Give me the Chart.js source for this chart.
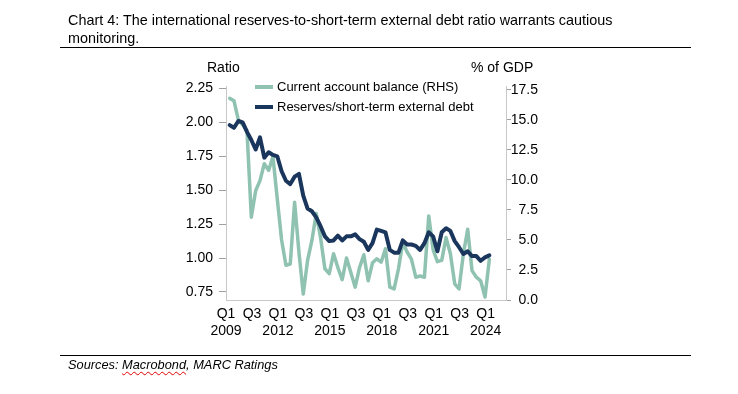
<!DOCTYPE html>
<html>
<head>
<meta charset="utf-8">
<title>Chart 4</title>
<script src="https://cdn.jsdelivr.net/npm/chart.js@4.4.1/dist/chart.umd.min.js"></script>
<style>
  html, body { margin: 0; padding: 0; background: #fff; }
  body { width: 738px; height: 394px; position: relative; overflow: hidden;
         font-family: "Liberation Sans", Arial, sans-serif; color: #000; }
  #wrap { position: absolute; left: 0; top: 0; width: 738px; height: 394px; }
  .title { position: absolute; left: 68px; top: 11px; font-size: 14.4px; line-height: 18px; white-space: nowrap; }
  .rule { position: absolute; left: 60px; width: 631px; height: 1px; background: #000; }
  .src { position: absolute; left: 68px; top: 357px; font-size: 12.8px; line-height: 16px; font-style: italic; white-space: nowrap; }
  .spell { text-decoration: underline wavy #e00000; text-decoration-thickness: 1px; text-underline-offset: 2px; }
  .axt { position: absolute; top: 59px; font-size: 14px; line-height: 16px; white-space: nowrap; }
  .sw { position: absolute; left: 255px; width: 18px; height: 4px; }
  .leg { position: absolute; left: 277px; font-size: 13px; line-height: 16px; white-space: nowrap; }
</style>
</head>
<body>
<div id="wrap"><canvas id="chart"></canvas></div>

<div class="title">Chart 4: The international reserves-to-short-term external debt ratio warrants cautious<br>monitoring.</div>
<div class="rule" style="top:47px"></div>

<div class="axt" style="left:207px">Ratio</div>
<div class="axt" style="left:471px">% of GDP</div>

<div class="sw" style="top:85px;background:#8fc2b1"></div>
<div class="leg" style="top:79px">Current account balance (RHS)</div>
<div class="sw" style="top:105px;background:#1b365d"></div>
<div class="leg" style="top:99px">Reserves/short-term external debt</div>

<div class="rule" style="top:355px"></div>
<div class="src">Sources: <span class="spell">Macrobond</span>, MARC Ratings</div>

<script>
  // quarterly observations, Q1 2009 - Q1 2024
  const quarters = [
    "Q1 2009", "Q2 2009", "Q3 2009", "Q4 2009",
    "Q1 2010", "Q2 2010", "Q3 2010", "Q4 2010",
    "Q1 2011", "Q2 2011", "Q3 2011", "Q4 2011",
    "Q1 2012", "Q2 2012", "Q3 2012", "Q4 2012",
    "Q1 2013", "Q2 2013", "Q3 2013", "Q4 2013",
    "Q1 2014", "Q2 2014", "Q3 2014", "Q4 2014",
    "Q1 2015", "Q2 2015", "Q3 2015", "Q4 2015",
    "Q1 2016", "Q2 2016", "Q3 2016", "Q4 2016",
    "Q1 2017", "Q2 2017", "Q3 2017", "Q4 2017",
    "Q1 2018", "Q2 2018", "Q3 2018", "Q4 2018",
    "Q1 2019", "Q2 2019", "Q3 2019", "Q4 2019",
    "Q1 2020", "Q2 2020", "Q3 2020", "Q4 2020",
    "Q1 2021", "Q2 2021", "Q3 2021", "Q4 2021",
    "Q1 2022", "Q2 2022", "Q3 2022", "Q4 2022",
    "Q1 2023", "Q2 2023", "Q3 2023", "Q4 2023",
    "Q1 2024",
  ];

  // Reserves/short-term external debt (ratio, LHS)
  const reservesRatio = [
    1.98, 1.96, 2.01, 2.00, 1.93, 1.87, 1.80, 1.89, 1.74, 1.78,
    1.76, 1.75, 1.64, 1.57, 1.545, 1.60, 1.62, 1.46, 1.365, 1.345,
    1.30, 1.235, 1.16, 1.125, 1.13, 1.165, 1.13, 1.16, 1.16, 1.175,
    1.14, 1.12, 1.06, 1.11, 1.21, 1.20, 1.19, 1.06, 1.04, 1.04,
    1.13, 1.10, 1.10, 1.09, 1.06, 1.11, 1.19, 1.16, 1.05, 1.19,
    1.22, 1.20, 1.125, 1.08, 1.03, 1.05, 1.015, 1.015, 0.98, 1.005,
    1.02,
  ];

  // Current account balance (% of GDP, RHS)
  const currentAccount = [
    16.8, 16.6, 15.0, 14.6, 14.1, 6.9, 9.1, 9.95, 11.35, 10.8,
    11.95, 8.4, 5.0, 2.9, 3.0, 8.15, 4.0, 0.5, 3.3, 4.96,
    7.2, 5.2, 2.6, 2.2, 3.85, 2.7, 1.7, 3.5, 2.3, 1.07,
    2.7, 3.77, 1.6, 3.1, 3.43, 3.15, 4.27, 1.07, 0.93, 2.6,
    4.8, 4.0, 3.4, 1.9, 2.0, 1.9, 7.0, 4.2, 3.2, 3.3,
    5.2, 3.85, 1.35, 0.93, 3.85, 5.9, 2.45, 1.9, 1.6, 0.25,
    3.4,
  ];

  const leftTicks = [0.75, 1.00, 1.25, 1.50, 1.75, 2.00, 2.25];
  const rightTicks = [0, 2.5, 5, 7.5, 10, 12.5, 15, 17.5];
  const xTickQuarters = ["Q1 2009", "Q3 2010", "Q1 2012", "Q3 2013", "Q1 2015", "Q3 2016",
                         "Q1 2018", "Q3 2019", "Q1 2021", "Q3 2022", "Q1 2024"];
  const xTickLabels = [["Q1", "2009"], ["Q3", ""], ["Q1", "2012"], ["Q3", ""], ["Q1", "2015"], ["Q3", ""],
                       ["Q1", "2018"], ["Q3", ""], ["Q1", "2021"], ["Q3", ""], ["Q1", "2024"]];

  const NAVY = "#1b365d";
  const GREEN = "#8fc2b1";
  const AXIS = "#c8c8c8";
  const TICK = "#a0a0a0";

  Chart.defaults.font.family = "'Liberation Sans', Arial, sans-serif";
  Chart.defaults.color = "#000";

  // points sit at the end of each quarter, ticks at its start
  const toPoints = vals => vals.map((v, i) => ({ x: i + 0.85, y: v }));

  new Chart(document.getElementById("chart"), {
    type: "line",
    data: {
      datasets: [
        {
          label: "Reserves/short-term external debt",
          data: toPoints(reservesRatio),
          yAxisID: "y",
          borderColor: NAVY,
          borderWidth: 4,
        },
        {
          label: "Current account balance (RHS)",
          data: toPoints(currentAccount),
          yAxisID: "y1",
          borderColor: GREEN,
          borderWidth: 3.5,
        },
      ],
    },
    options: {
      responsive: true,
      maintainAspectRatio: false,
      animation: false,
      layout: { padding: { left: 170, right: 200, top: 86, bottom: 40 } },
      elements: {
        point: { radius: 0 },
        line: { tension: 0, borderJoinStyle: "round", borderCapStyle: "round", fill: false },
      },
      plugins: { legend: { display: false }, tooltip: { enabled: false } },
      scales: {
        x: {
          type: "linear",
          min: 0,
          max: 64.7,
          grid: { display: false },
          border: { display: true, color: AXIS, width: 1 },
          afterBuildTicks: s => { s.ticks = xTickQuarters.map(q => ({ value: quarters.indexOf(q) })); },
          afterFit: s => { s.height = 54; },
          ticks: {
            autoSkip: false,
            maxRotation: 0,
            padding: -2,
            font: { size: 14 },
            callback: (v, i) => xTickLabels[i],
          },
        },
        y: {
          position: "left",
          min: 0.691,
          max: 2.268,
          afterBuildTicks: s => { s.ticks = leftTicks.map(v => ({ value: v })); },
          afterFit: s => { s.width = 56; },
          grid: { drawOnChartArea: false, drawTicks: true, tickLength: 7, color: TICK },
          border: { color: AXIS },
          ticks: { padding: 6, font: { size: 14 }, callback: v => v.toFixed(2) },
        },
        y1: {
          position: "right",
          min: 0,
          max: 17.83,
          afterBuildTicks: s => { s.ticks = rightTicks.map(v => ({ value: v })); },
          afterFit: s => { s.width = 32; },
          grid: { drawOnChartArea: false, drawTicks: true, tickLength: 5, color: TICK },
          border: { color: AXIS },
          ticks: { padding: 2, crossAlign: "far", font: { size: 14 }, callback: v => v.toFixed(1) },
        },
      },
    },
  });
</script>
</body>
</html>
